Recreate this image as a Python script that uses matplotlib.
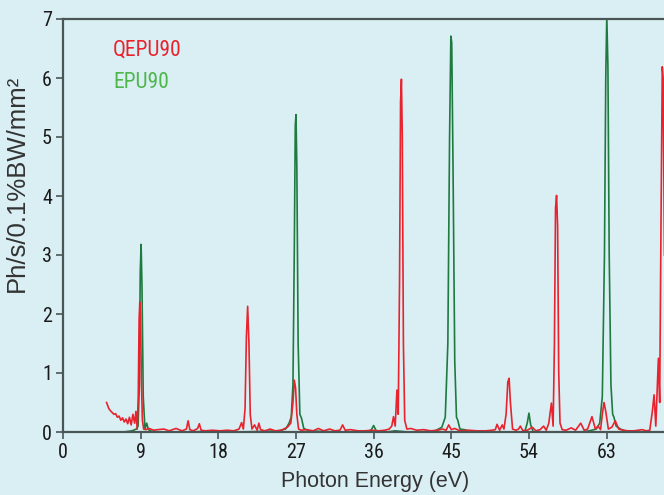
import matplotlib
matplotlib.use('Agg')
import matplotlib.pyplot as plt

# QEPU90 / EPU90 spectra
red_ev = [5.05, 5.3, 5.5, 5.7, 5.9, 6.1, 6.3, 6.5, 6.7, 6.9, 7.1, 7.3, 7.5, 7.7, 7.9, 8.1, 8.3,
          8.45, 8.6, 8.72, 8.82, 8.9, 8.98, 9.08, 9.2, 9.35, 9.6,
          10.0, 10.5, 11.0, 11.7, 12.3, 13.1, 13.8, 14.3, 14.5, 14.7, 15.1, 15.6, 15.8, 16.0, 16.5, 17.3, 18.2, 19.0, 19.8, 20.4,
          20.7, 20.9, 21.1, 21.25, 21.4, 21.55, 21.7, 21.9, 22.2, 22.5, 22.7, 22.9,
          23.4, 24.0, 24.6, 25.3, 26.0, 26.4,
          26.65, 26.8, 26.95, 27.1, 27.3, 27.6,
          28.2, 29.0, 29.6, 30.2, 30.9, 31.5, 32.1, 32.4, 32.7, 33.3, 34.2, 35.0, 35.8, 36.6, 37.3, 37.8,
          38.1, 38.3, 38.5, 38.7, 38.85, 39.0, 39.12, 39.22, 39.32, 39.45, 39.6, 39.85,
          40.3, 41.0, 41.8, 42.6, 43.4, 44.0, 44.4, 44.7, 45.0, 45.4, 46.0, 47.0, 48.0, 49.0, 49.7,
          50.1, 50.3, 50.6, 50.9, 51.1, 51.35, 51.55, 51.7, 51.85, 52.1, 52.5, 52.8, 53.0, 53.3,
          53.8, 54.4, 54.8, 55.3, 55.7, 56.0, 56.3,
          56.6, 56.8, 56.95, 57.08, 57.2, 57.32, 57.45, 57.6, 57.85,
          58.3, 58.9, 59.4, 60.0, 60.4, 60.8, 61.3, 61.7, 62.0, 62.3,
          62.5, 62.7, 62.9, 63.2, 63.6, 64.0, 64.4,
          64.9, 65.5, 66.2, 67.1, 67.6, 68.0, 68.3, 68.5, 68.7, 68.9, 69.0, 69.15, 69.3, 69.45, 69.55, 69.7]
red_flux = [0.50, 0.40, 0.36, 0.33, 0.30, 0.31, 0.25, 0.27, 0.20, 0.24, 0.17, 0.22, 0.14, 0.25, 0.12, 0.30, 0.15,
            0.35, 0.05, 0.60, 1.90, 2.20, 2.00, 0.90, 0.20, 0.05, 0.04,
            0.06, 0.03, 0.04, 0.05, 0.02, 0.06, 0.02, 0.05, 0.19, 0.04, 0.02, 0.06, 0.14, 0.03, 0.02, 0.03, 0.02, 0.03, 0.02, 0.05,
            0.16, 0.05, 0.40, 1.60, 2.13, 1.50, 0.30, 0.05, 0.12, 0.03, 0.15, 0.04,
            0.02, 0.05, 0.02, 0.03, 0.08, 0.15,
            0.50, 0.88, 0.75, 0.30, 0.05, 0.03,
            0.04, 0.02, 0.06, 0.02, 0.05, 0.02, 0.03, 0.12, 0.03, 0.04, 0.02, 0.02, 0.03, 0.02, 0.03, 0.05,
            0.10, 0.26, 0.10, 0.71, 0.30, 2.50, 5.60, 5.98, 5.00, 1.50, 0.20, 0.05,
            0.06, 0.03, 0.04, 0.02, 0.03, 0.05, 0.03, 0.12, 0.04, 0.06, 0.02, 0.03, 0.02, 0.02, 0.03,
            0.04, 0.13, 0.03, 0.12, 0.05, 0.30, 0.85, 0.91, 0.50, 0.05, 0.03, 0.05, 0.10, 0.02,
            0.03, 0.08, 0.02, 0.04, 0.10, 0.03, 0.15,
            0.49, 0.10, 1.50, 3.80, 4.01, 3.50, 1.00, 0.15, 0.04,
            0.03, 0.07, 0.03, 0.15, 0.03, 0.05, 0.26, 0.05, 0.10, 0.04,
            0.30, 0.50, 0.35, 0.05, 0.08, 0.19, 0.05,
            0.03, 0.02, 0.02, 0.04, 0.02, 0.03, 0.35, 0.63, 0.10, 0.90, 1.25, 0.50, 3.50, 6.19, 6.00, 3.00]

green_ev = [5.0, 6.0, 7.0, 8.0, 8.5, 8.7, 8.85, 8.95, 9.05, 9.15, 9.3, 9.5, 9.7, 9.9, 10.3, 11.0,
            13.0, 17.0, 19.5, 20.5, 23.0, 25.0, 25.8, 26.2, 26.45, 26.65, 26.8, 26.92, 27.0, 27.1, 27.25, 27.45, 27.65, 27.9,
            28.5, 30.0, 32.0, 35.0, 35.7, 36.0, 36.3, 37.5, 38.5, 40.0, 43.0,
            43.9, 44.3, 44.6, 44.8, 44.95, 45.05, 45.2, 45.4, 45.6, 45.75, 46.0, 46.5, 47.5,
            53.5, 53.8, 54.0, 54.2, 54.5, 60.0, 61.0, 61.8,
            62.2, 62.5, 62.75, 62.9, 63.02, 63.15, 63.3, 63.5, 63.7, 63.85, 64.1, 64.6, 65.5, 69.7]
green_flux = [0.0, 0.0, 0.0, 0.02, 0.05, 0.10, 0.80, 2.70, 3.18, 2.50, 0.60, 0.05, 0.15, 0.04, 0.01, 0.0,
              0.0, 0.01, 0.02, 0.0, 0.01, 0.02, 0.05, 0.15, 0.25, 0.80, 3.00, 5.20, 5.38, 4.50, 1.50, 0.30, 0.23, 0.06,
              0.02, 0.01, 0.0, 0.0, 0.03, 0.11, 0.02, 0.0, 0.02, 0.0, 0.01,
              0.08, 0.25, 1.50, 5.00, 6.71, 6.60, 4.50, 1.20, 0.25, 0.20, 0.05, 0.04, 0.0,
              0.0, 0.15, 0.32, 0.12, 0.0, 0.0, 0.02, 0.05,
              0.15, 0.60, 3.00, 6.00, 7.05, 6.20, 3.00, 0.80, 0.30, 0.25, 0.10, 0.05, 0.0, 0.0]

xticks = [0, 9, 18, 27, 36, 45, 54, 63]
yticks = [0, 1, 2, 3, 4, 5, 6, 7]

bg = '#daeff4'
axis_col = '#4a5656'
narrow = ['Roboto Condensed', 'DejaVu Sans']
plain = ['Liberation Sans', 'DejaVu Sans']

fig = plt.figure(figsize=(6.64, 4.95), dpi=100, facecolor=bg)
ax = fig.add_axes([63/664, 63/495, 1 - 63/664, 413/495])
ax.set_facecolor(bg)

ax.plot(green_ev, green_flux, color='#1f7a3f', lw=1.2)
ax.plot(red_ev, red_flux, color='#e8232e', lw=1.2)

ax.set_xlim(0, 69.65)
ax.set_ylim(0, 7)
ax.set_xticks(xticks)
ax.set_yticks(yticks)
ax.set_xticklabels([str(t) for t in xticks], family=narrow, fontsize=14.5)
ax.set_yticklabels([str(t) for t in yticks], family=narrow, fontsize=14.5)
ax.tick_params(direction='out', length=5, width=1.2, color=axis_col, pad=3, labelcolor='#1a1a1a')

for s in ['left', 'top', 'bottom']:
    ax.spines[s].set_color(axis_col)
    ax.spines[s].set_linewidth(1.6)
ax.spines['right'].set_visible(False)

ax.set_xlabel('Photon Energy (eV)', family=plain, fontsize=15.5, color='#333333')
ax.xaxis.set_label_coords((375-63)/601, -(482-432)/413)
ax.set_ylabel('Ph/s/0.1%BW/mm²', family=plain, fontsize=18.5, color='#333333')
ax.yaxis.set_label_coords(-(63-17)/601, (432-183)/413)
ax.xaxis.label.set_va('center')
ax.yaxis.label.set_va('center')

ax.text((113-63)/601, (432-50)/413, 'QEPU90', transform=ax.transAxes, family=narrow,
        fontsize=15.5, color='#e8232e', va='center', ha='left')
ax.text((113-63)/601, (432-82)/413, 'EPU90', transform=ax.transAxes, family=narrow,
        fontsize=15.5, color='#4db74a', va='center', ha='left')

fig.savefig('out.png', dpi=100, facecolor=bg)
